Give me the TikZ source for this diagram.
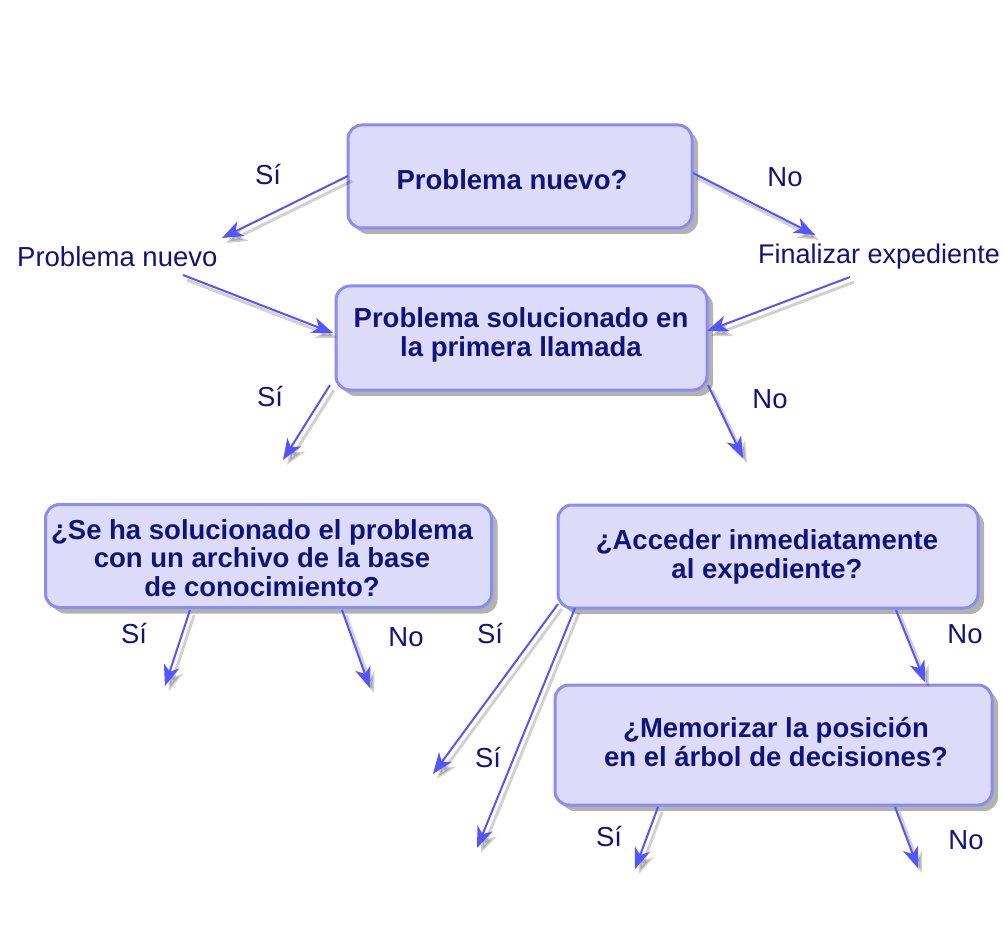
\documentclass[tikz,border=0pt]{standalone}
\usepackage{fontspec}
\setmainfont{Liberation Sans}
\usetikzlibrary{arrows.meta,shadows}
\definecolor{boxfill}{RGB}{220,220,250}
\definecolor{boxline}{RGB}{140,140,240}
\definecolor{txtnavy}{RGB}{18,18,120}
\definecolor{arrowblue}{RGB}{85,85,255}
\tikzset{
  qbox/.style={draw=boxline, fill=boxfill, line width=3pt, rounded corners=14pt,
    inner sep=0pt,
    drop shadow={shadow xshift=6pt, shadow yshift=-6pt, fill=black, opacity=0.3}},
  qtext/.style={align=center, text=txtnavy, font=\fontsize{27.5}{28.5}\selectfont\bfseries, inner sep=0pt},
  lbl/.style={text=txtnavy, font=\fontsize{27.5}{28.5}\selectfont, inner sep=0pt},
  arr/.style={draw=arrowblue, line width=2pt, -{Stealth[length=21pt,width=16pt,inset=6pt]},
    preaction={draw=black, opacity=0.18, line width=3pt,
      transform canvas={shift={(4pt,-5pt)}}}}
}
\begin{document}
\begin{tikzpicture}[x=1pt,y=-1pt]
\useasboundingbox[fill=white] (0,0) rectangle (1004,925);

% boxes
\node[qbox, minimum width=344pt, minimum height=103pt] (b1) at (520,176.5) {};
\node[qbox, minimum width=371pt, minimum height=104pt] (b2) at (521.5,338) {};
\node[qbox, minimum width=446pt, minimum height=103pt] (b3) at (268.5,556) {};
\node[qbox, minimum width=420pt, minimum height=103pt] (b4) at (768,556.5) {};
\node[qbox, minimum width=437pt, minimum height=120pt] (b5) at (773.5,745) {};

% box texts
\node[qtext] (t1) at (512,180) {Problema nuevo?};
\node[qtext] (t2) at (521,335) {Problema solucionado en\\la primera llamada};
\node[qtext] (t3) at (262,558) {¿Se ha solucionado el problema\\con un archivo de la base\\de conocimiento?};
\node[qtext] (t4) at (767,557) {¿Acceder inmediatamente\\al expediente?};
\node[qtext] (t5) at (776,742) {¿Memorizar la posición\\en el árbol de decisiones?};

% labels
\node[lbl] (l1) at (268,175) {Sí};
\node[lbl] (l2) at (785,177) {No};
\node[lbl, anchor=west] (pn) at (17,257) {Problema nuevo};
\node[lbl, anchor=west, font=\fontsize{27}{28.5}\selectfont] (fe) at (758,257) {Finalizar expediente};
\node[lbl] (l3) at (270,397) {Sí};
\node[lbl] (l4) at (770,399) {No};
\node[lbl] (l5) at (134,634) {Sí};
\node[lbl] (l6) at (406,637) {No};
\node[lbl] (l7) at (490,634) {Sí};
\node[lbl] (l8) at (965,634) {No};
\node[lbl] (l9) at (488,758) {Sí};
\node[lbl] (l10) at (609,837) {Sí};
\node[lbl] (l11) at (966,840) {No};

% connector end points
\coordinate (a1s) at (348,176);  \coordinate (a1e) at (222,238);
\coordinate (a2s) at (693,173);  \coordinate (a2e) at (815,235);
\coordinate (a3s) at (183,275);  \coordinate (a3e) at (333,333);
\coordinate (a4s) at (850,277);  \coordinate (a4e) at (707,331);
\coordinate (a5s) at (330,385);  \coordinate (a5e) at (283,460);
\coordinate (a6s) at (708,385);  \coordinate (a6e) at (743,458);
\coordinate (a7s) at (190,610);  \coordinate (a7e) at (165,686);
\coordinate (a8s) at (342,610);  \coordinate (a8e) at (370,688);
\coordinate (a9s) at (558,604);  \coordinate (a9e) at (433,774);
\coordinate (a10s) at (575,608); \coordinate (a10e) at (477,848);
\coordinate (a11s) at (896,610); \coordinate (a11e) at (925,682);
\coordinate (a12s) at (658,807); \coordinate (a12e) at (635,869);
\coordinate (a13s) at (895,807); \coordinate (a13e) at (918,868);

\draw[arr] (a1s) -- (a1e);
\draw[arr] (a2s) -- (a2e);
\draw[arr] (a3s) -- (a3e);
\draw[arr] (a4s) -- (a4e);
\draw[arr] (a5s) -- (a5e);
\draw[arr] (a6s) -- (a6e);
\draw[arr] (a7s) -- (a7e);
\draw[arr] (a8s) -- (a8e);
\draw[arr] (a9s) -- (a9e);
\draw[arr] (a10s) -- (a10e);
\draw[arr] (a11s) -- (a11e);
\draw[arr] (a12s) -- (a12e);
\draw[arr] (a13s) -- (a13e);
\end{tikzpicture}
\end{document}
